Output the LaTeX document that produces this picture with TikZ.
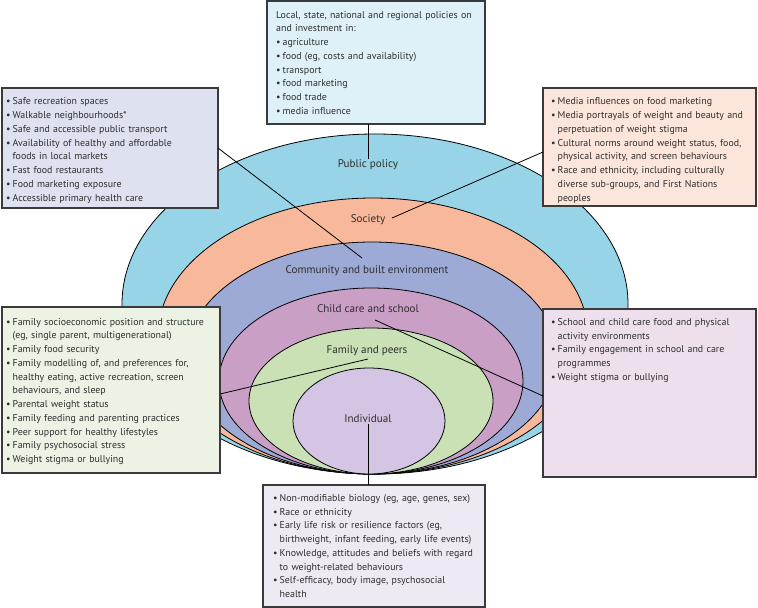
\documentclass[tikz,border=0pt]{standalone}
\usepackage{fontspec}
\setmainfont{PT Sans}
\newcommand{\bfirst}{\noindent\makebox[6.5pt][l]{•}}
\newcommand{\bi}{\par\bfirst}
\newcommand{\ind}{\newline\hspace*{6.5pt}}
\definecolor{txt}{HTML}{2E2E2E}
\definecolor{edge}{HTML}{3A3A3A}
\definecolor{cPol}{HTML}{97D4E7}
\definecolor{cSoc}{HTML}{F8B89C}
\definecolor{cCom}{HTML}{9DAAD6}
\definecolor{cSch}{HTML}{C99FC6}
\definecolor{cFam}{HTML}{C9E1B5}
\definecolor{cInd}{HTML}{D3C5E3}
\definecolor{bPol}{HTML}{DFF1F8}
\definecolor{bCom}{HTML}{DDE1F0}
\definecolor{bSoc}{HTML}{FCE5DA}
\definecolor{bFam}{HTML}{ECF3E4}
\definecolor{bSch}{HTML}{EDE0EC}
\definecolor{bInd}{HTML}{EEEAF4}
\tikzset{
  ring/.style={draw=black, line width=0.8pt},
  infobox/.style={draw=edge, line width=1.1pt, rectangle, inner sep=0pt, outer sep=0pt, anchor=north west},
  boxtext/.style={anchor=north west, inner sep=0pt, text width=260pt, align=left, text=txt,
    font=\fontsize{9.9}{13.75}\selectfont},
  layerlabel/.style={text=txt, inner sep=1pt, font=\fontsize{11.1}{13}\selectfont},
  conn/.style={draw=black, line width=0.8pt}
}
\begin{document}
\begin{tikzpicture}[x=1pt, y=-1pt]
\useasboundingbox (0,0) rectangle (758,608);
% nested rings
\draw[ring, fill=cPol] (375,304) ellipse [x radius=253pt, y radius=170pt];
\draw[ring, fill=cSoc] (373,336) ellipse [x radius=215pt, y radius=138pt];
\draw[ring, fill=cCom] (372,358) ellipse [x radius=186pt, y radius=116pt];
\draw[ring, fill=cSch] (371,381) ellipse [x radius=152pt, y radius=93pt];
\draw[ring, fill=cFam] (371,401) ellipse [x radius=122pt, y radius=73pt];
\draw[ring, fill=cInd] (369,421) ellipse [x radius=76pt, y radius=53pt];
% layer labels
\node[layerlabel] (lpol) at (368,165) {Public policy};
\node[layerlabel] (lsoc) at (368,220) {Society};
\node[layerlabel] (lcom) at (367,271) {Community and built environment};
\node[layerlabel] (lsch) at (368,309) {Child care and school};
\node[layerlabel] (lfam) at (367,351) {Family and peers};
\node[layerlabel] (lind) at (368,419) {Individual};
% boxes
\node[infobox, fill=bPol, minimum width=218pt, minimum height=123pt] (bpol) at (267,1) {};
\node[infobox, fill=bCom, minimum width=216pt, minimum height=120pt] (bcom) at (2,88) {};
\node[infobox, fill=bSoc, minimum width=213pt, minimum height=118pt] (bsoc) at (543,88) {};
\node[infobox, fill=bFam, minimum width=218pt, minimum height=166pt] (bfam) at (2,307) {};
\node[infobox, fill=bSch, minimum width=213pt, minimum height=168pt] (bsch) at (543,309) {};
\node[infobox, fill=bInd, minimum width=222pt, minimum height=122pt] (bind) at (263,485) {};
% connectors
\coordinate (ccom) at (362,258);
\coordinate (csoc) at (392,218);
\coordinate (csch) at (375,320);
\coordinate (cfam) at (368,359);
\draw[conn] (lpol.north) -- (lpol.north |- bpol.south);
\draw[conn] (bcom.east) -- (ccom);
\draw[conn] ([yshift=-5pt]bsoc.west) -- (csoc);
\draw[conn] ([yshift=-4pt]bfam.east) -- (cfam);
\draw[conn] (csch) -- ([yshift=-3pt]bsch.west);
\draw[conn] (lind.south) -- (lind.south |- bind.north);
% box texts
\node[boxtext] (tpol) at (276,11) {Local, state, national and regional policies on\newline and investment in:
\bi agriculture
\bi food (eg, costs and availability)
\bi transport
\bi food marketing
\bi food trade
\bi media influence};
\node[boxtext] (tcom) at (6,97.5) {\bfirst Safe recreation spaces
\bi Walkable neighbourhoods*
\bi Safe and accessible public transport
\bi Availability of healthy and affordable\ind foods in local markets
\bi Fast food restaurants
\bi Food marketing exposure
\bi Accessible primary health care};
\node[boxtext] (tsoc) at (551,97.5) {\bfirst Media influences on food marketing
\bi Media portrayals of weight and beauty and\ind perpetuation of weight stigma
\bi Cultural norms around  weight status, food,\ind physical activity, and screen behaviours
\bi Race and ethnicity, including culturally\ind diverse sub-groups, and First Nations\ind peoples};
\node[boxtext] (tfam) at (6,318) {\bfirst Family socioeconomic position and structure\ind (eg, single parent, multigenerational)
\bi Family food security
\bi Family modelling of, and preferences for,\ind healthy eating, active recreation, screen\ind behaviours, and sleep
\bi Parental weight status
\bi Family feeding and parenting practices
\bi Peer support for healthy lifestyles
\bi Family psychosocial stress
\bi Weight stigma or bullying};
\node[boxtext] (tsch) at (551,318) {\bfirst School and child care food and physical\ind activity environments
\bi Family engagement in school and care\ind programmes
\bi Weight stigma or bullying};
\node[boxtext] (tind) at (273,494) {\bfirst Non-modifiable biology (eg, age, genes, sex)
\bi Race or ethnicity
\bi Early life risk or resilience factors (eg,\ind birthweight, infant feeding, early life events)
\bi Knowledge, attitudes and beliefs with regard\ind to weight-related behaviours
\bi Self-efficacy, body image, psychosocial\ind health};
\end{tikzpicture}
\end{document}
